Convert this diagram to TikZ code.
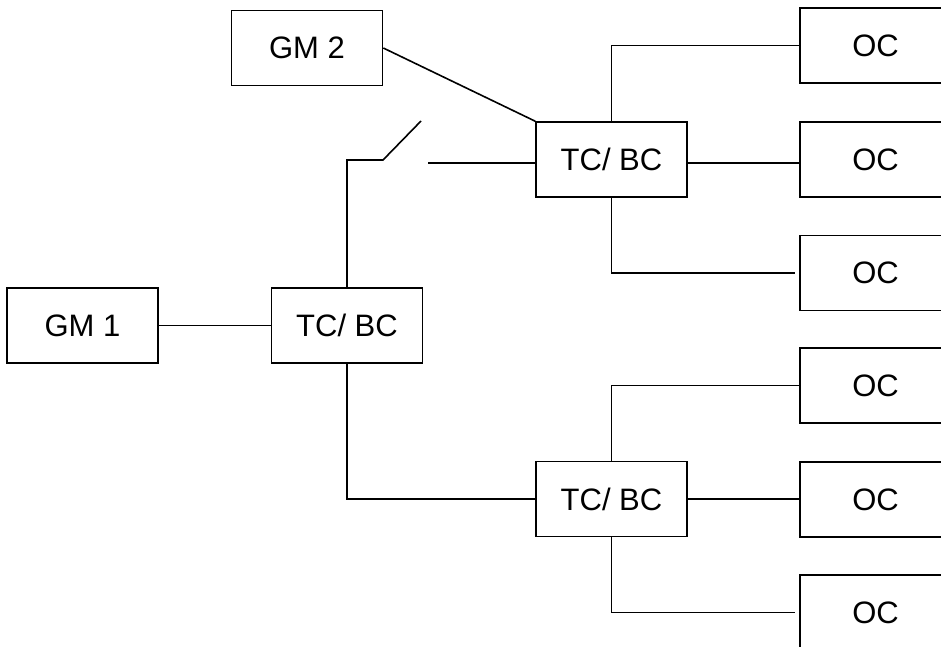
\documentclass[tikz,border=0pt]{standalone}
\usepackage{fontspec}
\setmainfont{Liberation Sans}
\begin{document}
\begin{tikzpicture}[x=1pt,y=-1pt,
  box/.style={draw,line width=1.6pt,minimum width=151pt,minimum height=75pt,inner sep=0pt,font=\fontsize{31}{36}\selectfont},
  wire/.style={line width=1.6pt}]
\useasboundingbox (0,0) rectangle (941,646);
\fill[white] (0,0) rectangle (941,646);
\clip (0,0) rectangle (941,646);
% nodes
\node[box] (gm2) at (307,48) {GM 2};
\node[box] (gm1) at (82.5,325.5) {GM 1};
\node[box] (tc1) at (347,325.5) {TC/ BC};
\node[box] (tc2) at (611.5,159.5) {TC/ BC};
\node[box] (tc3) at (611.5,499) {TC/ BC};
\node[box] (oc1) at (875.5,45.5) {OC};
\node[box] (oc2) at (875.5,159.5) {OC};
\node[box] (oc3) at (875.5,273) {OC};
\node[box] (oc4) at (875.5,385.5) {OC};
\node[box] (oc5) at (875.5,499.5) {OC};
\node[box] (oc6) at (875.5,612.5) {OC};
% coordinates
\coordinate (swa) at (347,160);
\coordinate (swb) at (383,160);
\coordinate (swc) at (421,121);
\coordinate (swd) at (428,163);
\coordinate (r2) at (0,163);
\coordinate (e3) at (795,273);
\coordinate (e6) at (795,612.5);
% connectors
\draw[wire] (gm1.east) -- (tc1.west);
\draw[wire] (gm2.east) -- (tc2.north west);
\draw[wire] (tc1.north) -- (swa) -- (swb) -- (swc);
\draw[wire] (swd) -- (swd -| tc2.west);
\draw[wire] (tc1.south) |- (tc3.west);
\draw[wire] (tc2.north) |- (oc1.west);
\draw[wire] (tc2.east |- r2) -- (oc2.west |- r2);
\draw[wire] (tc2.south) |- (e3);
\draw[wire] (tc3.north) |- (oc4.west);
\draw[wire] (tc3.east) -- (oc5.west |- tc3.east);
\draw[wire] (tc3.south) |- (e6);
\end{tikzpicture}
\end{document}
